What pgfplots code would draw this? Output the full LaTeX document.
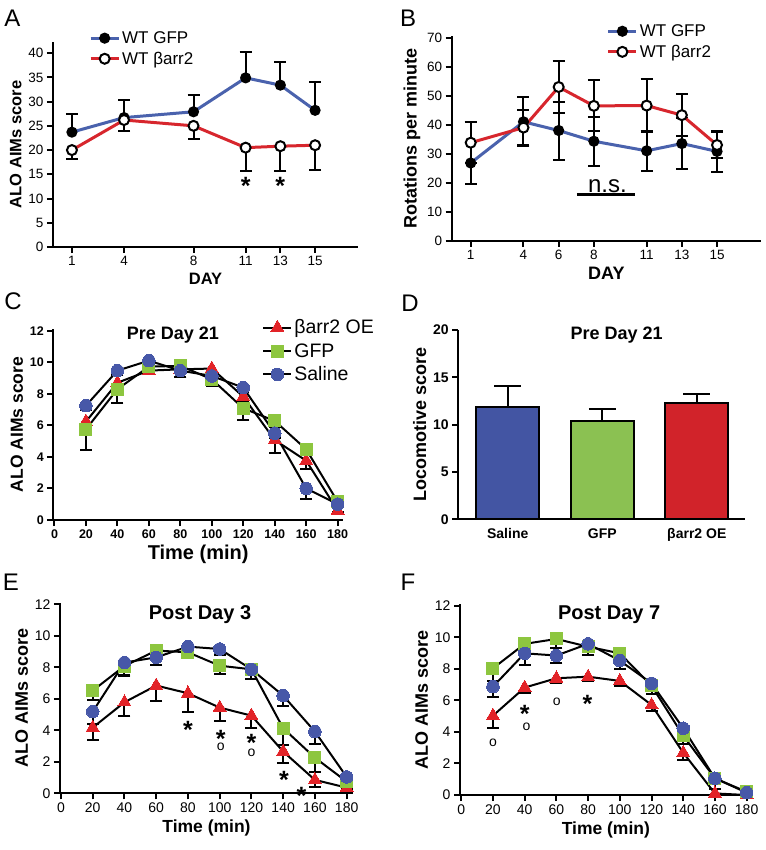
\documentclass[border=0pt]{standalone}
\usepackage{pgfplots}
\pgfplotsset{compat=1.18}
\usepackage{fontspec}
\setmainfont{Liberation Sans}

\definecolor{ablue}{RGB}{74,98,173}
\definecolor{ared}{RGB}{215,38,45}
\definecolor{cred}{RGB}{226,35,40}
\definecolor{cgreen}{RGB}{141,198,63}
\definecolor{cblue}{RGB}{71,88,168}
\definecolor{dblue}{RGB}{67,85,163}
\definecolor{dgreen}{RGB}{139,193,82}
\definecolor{dred}{RGB}{209,35,42}

\newcommand\fs[1]{\fontsize{#1}{#1}\selectfont}

\tikzset{
  star/.style={font=\bfseries\fs{25}, anchor=base, yshift=-14.5pt, inner sep=0pt},
  circ/.style={font=\fs{14}, anchor=base, yshift=-3.6pt, inner sep=0pt},
  ttl/.style={font=\bfseries\fs{18}},
  letter/.style={font=\fs{24}},
}

\pgfplotsset{
  prism/.style={
    scale only axis, anchor=south west,
    axis lines*=left, axis line style={line width=2pt, -},
    tick align=outside, major tick length=6pt,
    tick style={black, line width=2pt},
    /pgf/number format/assume math mode=true,
    clip=false, ymin=0,
    label style={font=\bfseries\fs{16.5}},
    legend cell align=left,
    legend style={draw=none, fill=none, inner sep=0pt,
      anchor=north west, row sep=3pt},
    legend image code/.code={\draw[mark repeat=2, mark phase=2]
      plot coordinates {(0pt,0pt) (14pt,0pt) (28pt,0pt)};},
  },
  ebar/.style={error bars/.cd, y dir=#1, y explicit,
    error mark=|,
    error bar style={black, line width=2pt},
    error mark options={black, line width=2pt, mark size=6pt}},
  ltri/.style={black, line width=2pt, mark=triangle*, mark size=7.5pt,
    mark options={cred, line width=0pt}},
  lsq/.style={black, line width=2pt, mark=square*, mark size=6pt,
    mark options={cgreen, line width=0pt}},
  lcirc/.style={black, line width=2pt, mark=*, mark size=6.3pt,
    mark options={cblue, line width=0pt}},
}

\begin{document}
\begin{tikzpicture}
\path[use as bounding box] (0pt,0pt) rectangle (765pt,-850pt);

% ---------- A ----------
\node[letter] at (12.5pt,-18.5pt) {A};
\begin{axis}[prism, at={(53pt,-247pt)}, width=305pt, height=205pt,
  xmin=-0.09, xmax=17.47, ymax=42.3,
  xtick={1,4,8,11,13,15}, ytick={0,5,...,40},
  ticklabel style={font=\fs{13.5}},
  xlabel={DAY}, ylabel={ALO AIMs score},
  legend style={at={(0.118,1.062)}, font=\fs{17}}]
\addplot[ablue, line width=3pt, mark=*, mark size=4pt,
  mark options={black}, ebar=plus] coordinates {
  (1,23.7) +- (0,3.8)
  (4,26.7) +- (0,3.6)
  (8,27.9) +- (0,3.4)
  (11,34.9) +- (0,5.3)
  (13,33.4) +- (0,4.8)
  (15,28.2) +- (0,5.9)
};
\addlegendentry{WT GFP}
\addplot[ared, line width=3pt, mark=*, mark size=5pt,
  mark options={draw=black, fill=white, line width=2pt}, ebar=minus] coordinates {
  (1,20.0) +- (0,1.8)
  (4,26.2) +- (0,2.2)
  (8,25.0) +- (0,2.8)
  (11,20.5) +- (0,4.9)
  (13,20.8) +- (0,5.2)
  (15,21.0) +- (0,5.1)
};
\addlegendentry{WT βarr2}
\node[star] at (axis cs:11,13.8) {*};
\node[star] at (axis cs:13,13.8) {*};
\end{axis}

% ---------- B ----------
\node[letter] at (408pt,-18.5pt) {B};
\begin{axis}[prism, at={(451.7pt,-240.7pt)}, width=309.3pt, height=205pt,
  xmin=-0.08, xmax=17.5, ymax=70.7,
  xtick={1,4,6,8,11,13,15}, ytick={0,10,...,70},
  ticklabel style={font=\fs{13.5}},
  xlabel={DAY}, ylabel={Rotations per minute},
  label style={font=\bfseries\fs{18}},
  legend style={at={(0.501,1.065)}, font=\fs{17}}]
\addplot[ablue, line width=3pt, mark=*, mark size=4pt,
  mark options={black}, ebar=both] coordinates {
  (1,26.8) +- (0,7.2)
  (4,41.0) +- (0,8.5)
  (6,38.0) +- (0,10.0)
  (8,34.3) +- (0,8.5)
  (11,31.0) +- (0,7.0)
  (13,33.5) +- (0,8.7)
  (15,30.8) +- (0,7.0)
};
\addlegendentry{WT GFP}
\addplot[ared, line width=3pt, mark=*, mark size=5pt,
  mark options={draw=black, fill=white, line width=2pt}, ebar=both] coordinates {
  (1,33.8) +- (0,7.0)
  (4,39.0) +- (0,6.0)
  (6,53.0) +- (0,9.0)
  (8,46.5) +- (0,8.8)
  (11,46.6) +- (0,9.0)
  (13,43.3) +- (0,7.3)
  (15,33.0) +- (0,4.5)
};
\addlegendentry{WT βarr2}
\addplot[black, line width=2.5pt, forget plot] coordinates {(7.04,16) (10.33,16)};
\node[font=\fs{24}, anchor=south, inner sep=1pt] at (axis cs:8.77,16.3) {n.s.};
\end{axis}

% ---------- C ----------
\node[letter] at (13pt,-301pt) {C};
\begin{axis}[prism, at={(53.3pt,-520pt)}, width=289.7pt, height=190.9pt,
  xmin=-0.76, xmax=183.4, ymax=12.1,
  xtick={0,20,...,180}, ytick={0,2,...,12},
  ticklabel style={font=\bfseries\fs{12.5}},
  xlabel={Time (min)}, ylabel={ALO AIMs score},
  ylabel style={font=\bfseries\fs{17.5}},
  xlabel style={font=\bfseries\fs{20}},
  legend style={at={(0.721,1.06)}, font=\fs{19.5}, row sep=4pt}]
\addplot[ltri, ebar=minus] coordinates {
  (20,6.24) +- (0,0.3) (40,8.7) +- (0,0.3) (60,9.47) +- (0,0.2)
  (80,9.55) +- (0,0.5) (100,9.6) +- (0,1.0) (120,7.82) +- (0,0.3)
  (140,5.07) +- (0,0.8) (160,3.76) +- (0,0.5) (180,0.6) +- (0,0.1)
};
\addlegendentry{βarr2 OE}
\addplot[lsq, ebar=minus] coordinates {
  (20,5.75) +- (0,1.3) (40,8.29) +- (0,0.9) (60,9.72) +- (0,0.4)
  (80,9.77) +- (0,0.3) (100,8.92) +- (0,0.4) (120,7.08) +- (0,0.75)
  (140,6.28) +- (0,0.4) (160,4.48) +- (0,0.3) (180,1.16) +- (0,0.2)
};
\addlegendentry{GFP}
\addplot[lcirc, ebar=minus] coordinates {
  (20,7.25) +- (0,0.3) (40,9.47) +- (0,0.3) (60,10.1) +- (0,0.3)
  (80,9.47) +- (0,0.4) (100,9.13) +- (0,0.3) (120,8.39) +- (0,0.3)
  (140,5.5) +- (0,0.3) (160,2.0) +- (0,0.65) (180,1.01) +- (0,0.2)
};
\addlegendentry{Saline}
\node[ttl] at (axis cs:75.3,11.7) {Pre Day 21};
\end{axis}

% ---------- D ----------
\node[letter] at (410pt,-303pt) {D};
\begin{axis}[prism, at={(458.3pt,-519.3pt)}, width=286.7pt, height=189.3pt,
  xmin=-0.523, xmax=2.51, ymax=20,
  xtick={0,1,2}, xticklabels={Saline,GFP,βarr2 OE},
  ytick={0,5,...,20},
  x tick style={draw=none},
  ticklabel style={font=\bfseries\fs{14}},
  ylabel={Locomotive score},
  ylabel style={font=\bfseries\fs{18}}]
\addplot[ybar, bar width=63pt, bar shift=0pt, fill=dblue, draw=black, line width=2pt,
  error bars/.cd, y dir=plus, y explicit, error mark=|,
  error bar style={black, line width=2pt},
  error mark options={black, line width=2pt, mark size=13.5pt}]
  coordinates {(0,11.84) +- (0,2.29)};
\addplot[ybar, bar width=63pt, bar shift=0pt, fill=dgreen, draw=black, line width=2pt,
  error bars/.cd, y dir=plus, y explicit, error mark=|,
  error bar style={black, line width=2pt},
  error mark options={black, line width=2pt, mark size=13.5pt}]
  coordinates {(1,10.43) +- (0,1.23)};
\addplot[ybar, bar width=63pt, bar shift=0pt, fill=dred, draw=black, line width=2pt,
  error bars/.cd, y dir=plus, y explicit, error mark=|,
  error bar style={black, line width=2pt},
  error mark options={black, line width=2pt, mark size=13.5pt}]
  coordinates {(2,12.33) +- (0,0.92)};
\node[ttl] at (axis cs:1.153,19.47) {Pre Day 21};
\end{axis}

% ---------- E ----------
\node[letter] at (11pt,-582pt) {E};
\begin{axis}[prism, at={(60pt,-793.3pt)}, width=293pt, height=190pt,
  xmin=-0.63, xmax=184, ymax=12.06,
  xtick={0,20,...,180}, ytick={0,2,...,12},
  ticklabel style={font=\fs{14}},
  xlabel={Time (min)}, ylabel={ALO AIMs score},
  ylabel style={font=\bfseries\fs{18}},
  xlabel style={font=\bfseries\fs{17.5}}]
\addplot[ltri, ebar=minus] coordinates {
  (20,4.17) +- (0,0.78) (40,5.78) +- (0,0.9) (60,6.84) +- (0,1.0)
  (80,6.35) +- (0,1.16) (100,5.44) +- (0,0.85) (120,4.93) +- (0,0.8)
  (140,2.65) +- (0,0.75) (160,0.85) +- (0,0.43) (180,0.36) +- (0,0.1)
};
\addplot[lsq, ebar=minus] coordinates {
  (20,6.52) +- (0,0.6) (40,8.08) +- (0,0.63) (60,9.06) +- (0,0.9)
  (80,8.95) +- (0,0.2) (100,8.1) +- (0,0.5) (120,7.87) +- (0,0.6)
  (140,4.13) +- (0,1.06) (160,2.26) +- (0,0.9) (180,0.74) +- (0,0.3)
};
\addplot[lcirc, ebar=minus] coordinates {
  (20,5.19) +- (0,0.8) (40,8.3) +- (0,0.8) (60,8.63) +- (0,0.5)
  (80,9.31) +- (0,0.6) (100,9.16) +- (0,0.4) (120,7.87) +- (0,0.6)
  (140,6.2) +- (0,0.65) (160,3.92) +- (0,0.8) (180,1.04) +- (0,0.5)
};
\node[ttl, font=\bfseries\fs{20}] at (axis cs:87.6,11.37) {Post Day 3};
\node[star] at (axis cs:80,4.38) {*};
\node[star] at (axis cs:100.6,3.8) {*};
\node[circ] at (axis cs:100.6,2.95) {o};
\node[star] at (axis cs:120.1,3.55) {*};
\node[circ] at (axis cs:120.1,2.55) {o};
\node[star] at (axis cs:140.5,1.2) {*};
\node[star] at (axis cs:151.6,0.2) {*};
\end{axis}

% ---------- F ----------
\node[letter] at (408pt,-582pt) {F};
\begin{axis}[prism, at={(460pt,-795pt)}, width=291.7pt, height=190.9pt,
  xmin=-0.8, xmax=183.2, ymax=12.1,
  xtick={0,20,...,180}, ytick={0,2,...,12},
  ticklabel style={font=\fs{14}},
  xlabel={Time (min)}, ylabel={ALO AIMs score},
  ylabel style={font=\bfseries\fs{18}},
  xlabel style={font=\bfseries\fs{17.5}}]
\addplot[ltri, ebar=minus] coordinates {
  (20,5.03) +- (0,0.76) (40,6.81) +- (0,0.36) (60,7.4) +- (0,0.3)
  (80,7.5) +- (0,0.3) (100,7.23) +- (0,0.3) (120,5.71) +- (0,0.4)
  (140,2.68) +- (0,0.46) (160,0.1) +- (0,0.1) (180,0.0) +- (0,0.05)
};
\addplot[lsq, ebar=minus] coordinates {
  (20,8.03) +- (0,0.8) (40,9.58) +- (0,0.4) (60,9.89) +- (0,0.6)
  (80,9.4) +- (0,0.5) (100,8.98) +- (0,0.4) (120,6.93) +- (0,0.5)
  (140,3.76) +- (0,0.5) (160,1.06) +- (0,0.3) (180,0.2) +- (0,0.1)
};
\addplot[lcirc, ebar=minus] coordinates {
  (20,6.87) +- (0,0.68) (40,8.98) +- (0,0.73) (60,8.84) +- (0,0.45)
  (80,9.58) +- (0,0.7) (100,8.52) +- (0,0.55) (120,7.08) +- (0,0.5)
  (140,4.23) +- (0,0.6) (160,1.06) +- (0,0.7) (180,0.15) +- (0,0.1)
};
\node[ttl, font=\bfseries\fs{20}] at (axis cs:93.3,11.41) {Post Day 7};
\node[circ] at (axis cs:20,3.28) {o};
\node[star] at (axis cs:40.1,5.5) {*};
\node[circ] at (axis cs:41.2,4.3) {o};
\node[circ] at (axis cs:60.2,5.92) {o};
\node[star] at (axis cs:79.6,6.17) {*};
\end{axis}
\end{tikzpicture}
\end{document}
